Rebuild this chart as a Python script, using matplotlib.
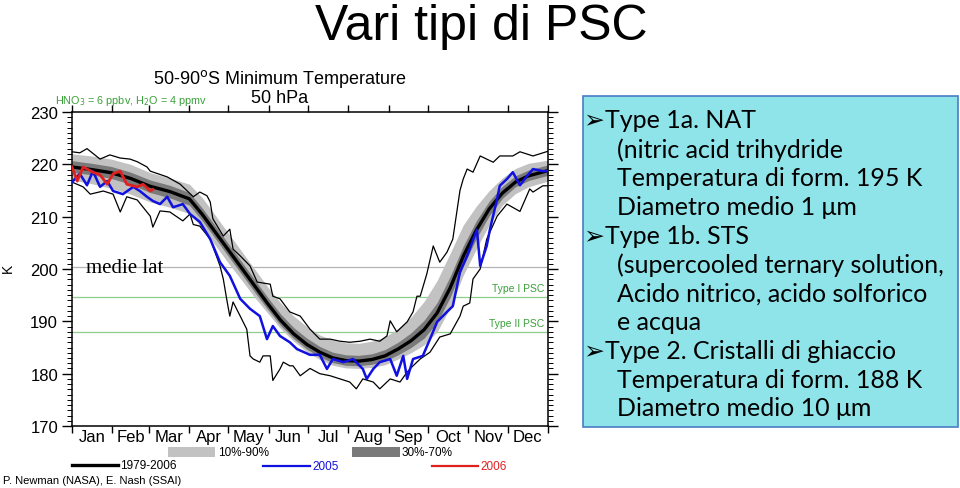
import numpy as np
import matplotlib
matplotlib.use("Agg")
import matplotlib.pyplot as plt
from matplotlib.patches import Rectangle
from matplotlib.lines import Line2D

plt.rcParams['font.family'] = ['Liberation Sans', 'DejaVu Sans']

# ---- data (day of year, K) ----
clim_days = [0, 15, 30, 45, 60, 75, 90, 100, 110, 120, 130, 140, 150, 160, 170, 180, 190,
             200, 210, 220, 230, 240, 250, 260, 270, 280, 290, 300, 310, 320, 330, 340, 350, 365]
mean_1979_2006 = [219.5, 219.0, 218.4, 217.3, 215.8, 214.8, 213.4, 210.4, 207.0, 203.6, 200.2, 196.8,
                  193.4, 190.2, 187.6, 185.6, 184.1, 183.0, 182.5, 182.4, 182.7, 183.4, 184.7, 186.3,
                  188.4, 191.6, 196.4, 202.4, 207.4, 211.5, 214.5, 216.6, 217.8, 218.8]
p10 = [217.0, 216.3, 215.4, 214.3, 212.8, 211.8, 210.6, 207.8, 204.5, 201.1, 197.9, 194.6, 191.6,
       188.6, 186.2, 184.2, 182.7, 181.6, 181.1, 181.0, 181.2, 181.7, 182.8, 184.0, 185.5, 188.0,
       192.6, 198.8, 203.8, 208.5, 212.2, 214.4, 215.7, 216.8]
p90 = [222.0, 221.6, 221.0, 220.0, 218.4, 217.4, 216.2, 213.6, 210.2, 206.8, 203.4, 200.0, 196.6,
       193.5, 191.0, 189.0, 187.4, 186.4, 185.9, 185.8, 186.2, 187.0, 188.6, 190.8, 193.8, 197.8,
       203.0, 208.4, 212.0, 215.0, 217.4, 219.2, 220.2, 220.8]
p30 = [218.5, 218.0, 217.3, 216.2, 214.6, 213.6, 212.2, 209.2, 205.8, 202.4, 199.0, 195.6, 192.3,
       189.2, 186.7, 184.7, 183.2, 182.1, 181.6, 181.5, 181.8, 182.4, 183.6, 185.0, 186.8, 189.8,
       194.6, 200.6, 205.8, 210.2, 213.5, 215.7, 216.9, 217.9]
p70 = [220.7, 220.2, 219.6, 218.5, 217.0, 216.0, 214.6, 211.6, 208.2, 204.8, 201.4, 198.0, 194.6,
       191.4, 188.8, 186.8, 185.2, 184.1, 183.6, 183.5, 183.8, 184.6, 186.0, 187.8, 190.2, 193.6,
       198.6, 204.4, 209.2, 213.0, 215.8, 217.8, 218.9, 219.9]

max_days = [0, 6, 11.5, 21.5, 29, 37, 44.5, 50, 57.5, 60, 73, 83, 93, 98, 103.5, 106, 108, 116, 121,
            123.5, 129, 136.5, 142, 152, 154, 159.5, 167, 175, 182.5, 190, 198, 205.5, 213, 221,
            228.5, 236, 241.5, 244, 249, 257, 261.5, 264.5, 267, 272, 277, 282, 287.5, 292, 297.5,
            300, 303, 307.5, 313, 318, 323, 328, 338, 343.5, 353.5, 365]
max_temp = [222.4, 222.2, 223.0, 221.0, 221.8, 221.2, 221.0, 220.5, 219.5, 218.7, 217.6, 216.2,
            213.8, 214.7, 214.0, 212.8, 209.6, 206.3, 207.6, 203.8, 202.5, 200.6, 197.5, 197.1,
            194.8, 194.3, 191.8, 191.0, 188.5, 186.6, 186.6, 186.2, 186.0, 186.2, 186.6, 186.2,
            187.2, 190.1, 188.0, 189.9, 191.8, 194.8, 194.8, 199.0, 204.4, 201.3, 203.2, 205.7,
            215.0, 217.2, 219.1, 218.5, 221.6, 221.0, 220.4, 221.6, 221.6, 222.4, 221.6, 222.5]

min_days = [0, 8.5, 14, 24, 31.5, 37, 42, 50, 60, 62, 67.5, 75, 85, 90.5, 93, 98, 106, 113.5,
            116, 119, 121, 123.5, 129, 134, 136.5, 139, 144, 146.5, 152, 154, 159.5, 162, 167,
            169.5, 175, 182.5, 190, 198, 205.5, 213, 218, 223, 231, 236, 244, 251.5, 257, 261.5,
            267, 274.5, 282, 290, 297.5, 300, 305, 307.5, 313, 318, 326, 333.5, 343.5, 351, 353.5,
            361, 365]
min_temp = [216.6, 215.7, 214.3, 214.9, 214.3, 210.9, 213.8, 213.2, 210.1, 208.0, 211.1, 210.9,
            209.2, 210.5, 208.5, 208.2, 205.7, 200.6, 198.1, 193.7, 191.0, 193.7, 191.0, 188.5,
            183.4, 182.8, 182.2, 183.4, 183.4, 178.7, 180.9, 182.2, 181.5, 181.5, 179.6, 181.0,
            180.0, 179.6, 179.0, 178.4, 177.1, 179.0, 178.4, 177.1, 179.0, 178.4, 180.3, 181.5,
            182.8, 184.1, 187.0, 187.6, 191.0, 192.9, 193.5, 198.1, 200.0, 205.7, 210.1, 212.4,
            211.0, 215.3, 214.7, 215.9, 215.9]

y2005_days = [0, 6, 11.5, 16, 21.5, 27, 31.5, 39, 47, 52, 57.5, 62, 67.5, 73, 77.5, 85, 90.5, 98,
              106, 113.5, 121, 129, 136.5, 144, 149.5, 154, 159.5, 167, 172.5, 182.5, 190, 195.5,
              200, 208, 215.5, 223, 226, 231, 236, 244, 249, 254, 257, 261.5, 269, 274.5, 280,
              287.5, 292, 297.5, 303, 310.5, 313, 318, 320.5, 326, 328, 333.5, 338, 343.5, 349,
              353.5, 361, 365]
y2005_temp = [216.6, 218.2, 216.0, 218.7, 215.7, 216.8, 214.9, 214.3, 215.7, 214.9, 213.8, 213.0,
              212.4, 213.8, 211.8, 212.4, 210.5, 209.0, 205.7, 201.3, 198.7, 194.3, 192.4, 191.0,
              186.6, 189.1, 187.2, 186.0, 184.7, 183.6, 183.6, 180.9, 182.8, 182.2, 182.8, 180.9,
              179.0, 180.9, 182.2, 182.8, 179.6, 183.4, 179.0, 182.8, 183.4, 186.6, 189.9, 191.8,
              192.9, 199.4, 202.5, 207.5, 200.6, 204.4, 207.6, 213.4, 215.9, 217.2, 218.5, 216.0,
              217.8, 219.1, 218.7, 218.7]

y2006_days = [0, 4, 8.5, 16, 21.5, 27, 31.5, 37, 42, 50, 54.5, 60, 62]
y2006_temp = [219.5, 216.8, 219.5, 218.5, 218.0, 216.2, 218.2, 218.7, 216.2, 215.7, 216.2, 214.9, 215.2]

month_starts = [0, 31, 59, 90, 120, 151, 181, 212, 243, 273, 304, 334, 365]
month_names = ['Jan', 'Feb', 'Mar', 'Apr', 'May', 'Jun', 'Jul', 'Aug', 'Sep', 'Oct', 'Nov', 'Dec']
mid_lat_level = 200.3
psc_levels = [194.7, 188.0]
psc_names = ['Type I PSC', 'Type II PSC']

text_lines = [
    ('\u27a2Type 1a. NAT', True),
    ('(nitric acid trihydride', False),
    ('Temperatura di form. 195 K', False),
    ('Diametro medio 1 \u03bcm', False),
    ('\u27a2Type 1b. STS', True),
    ('(supercooled ternary solution,', False),
    ('Acido nitrico, acido solforico', False),
    ('e acqua', False),
    ('\u27a2Type 2. Cristalli di ghiaccio', True),
    ('Temperatura di form. 188 K', False),
    ('Diametro medio 10 \u03bcm', False),
]

W, H = 960, 489
def fx(px):
    return px / W
def fy(py):
    return 1 - py / H

fig = plt.figure(figsize=(9.6, 4.89), dpi=100)
ax = fig.add_axes([fx(72), fy(427), 476 / W, 314 / H])

light, dark = '#c2c2c2', '#7a7a7a'
ax.fill_between(clim_days, p10, p90, color=light, lw=0, zorder=1)
ax.fill_between(clim_days, p30, p70, color=dark, lw=0, zorder=2)
ax.axhline(mid_lat_level, color='#b4b4b4', lw=0.9, zorder=0.5)
for lev in psc_levels:
    ax.axhline(lev, color='#8ccf8c', lw=0.9, zorder=0.5)
ax.plot(max_days, max_temp, color='black', lw=0.9, zorder=3)
ax.plot(min_days, min_temp, color='black', lw=0.9, zorder=3)
ax.plot(clim_days, mean_1979_2006, color='black', lw=2.4, zorder=4)
ax.plot(y2005_days, y2005_temp, color='#1010e0', lw=1.8, zorder=5)
ax.plot(y2006_days, y2006_temp, color='#e02020', lw=2.0, zorder=6)

ax.set_xlim(0, 365)
ax.set_ylim(170, 230)
ax.set_yticks(range(170, 231, 10))
ax.set_yticks(range(170, 231, 1), minor=True)
ax.tick_params(axis='y', which='major', direction='out', length=7, width=1,
               right=True, labelsize=12, pad=3)
ax.tick_params(axis='y', which='minor', direction='out', length=3.5, width=0.7, right=True)
ax.set_xticks(month_starts)
ax.set_xticklabels([])
mids = [(month_starts[i] + month_starts[i + 1]) / 2 for i in range(12)]
ax.set_xticks(mids, minor=True)
ax.set_xticklabels(month_names, minor=True, fontsize=12)
ax.tick_params(axis='x', which='major', direction='out', length=5, width=1, top=True)
ax.tick_params(axis='x', which='minor', length=0, pad=2)
for s in ax.spines.values():
    s.set_linewidth(1.1)

ax.text(0.03, (mid_lat_level - 170) / 60, 'medie lat', transform=ax.transAxes,
        family='Liberation Serif', fontsize=15, va='center', ha='left', zorder=7)
ax.text(362, psc_levels[0] + 1.6, psc_names[0], ha='right', va='center', fontsize=7.5, color='#3aa03a')
ax.text(362, psc_levels[1] + 1.6, psc_names[1], ha='right', va='center', fontsize=7.5, color='#3aa03a')

# chart annotations
fig.text(fx(8), fy(268), 'K', rotation=90, ha='center', va='center', fontsize=10)
fig.text(fx(280), fy(79), '50-90$^{\\mathrm{o}}$S Minimum Temperature', ha='center', va='center', fontsize=13)
fig.text(fx(280), fy(99), '50 hPa', ha='center', va='center', fontsize=13)
fig.text(fx(55), fy(101), 'HNO$_3$ = 6 ppbv, H$_2$O = 4 ppmv', ha='left', va='center',
         fontsize=7.8, color='#3aa03a')

# legend under the plot
fig.patches.append(Rectangle((fx(168), fy(458)), 47 / W, 10 / H, transform=fig.transFigure,
                             color=light, lw=0))
fig.text(fx(218), fy(453), '10%-90%', ha='left', va='center', fontsize=8.5)
fig.patches.append(Rectangle((fx(352), fy(458)), 48 / W, 10 / H, transform=fig.transFigure,
                             color=dark, lw=0))
fig.text(fx(402), fy(453), '30%-70%', ha='left', va='center', fontsize=8.5)
fig.lines.append(Line2D([fx(72), fx(118)], [fy(466), fy(466)], transform=fig.transFigure,
                        color='black', lw=2.4))
fig.text(fx(120), fy(466), '1979-2006', ha='left', va='center', fontsize=8.5)
fig.lines.append(Line2D([fx(263), fx(310)], [fy(467), fy(467)], transform=fig.transFigure,
                        color='#1010e0', lw=1.6))
fig.text(fx(312), fy(467), '2005', ha='left', va='center', fontsize=8.5, color='#1010e0')
fig.lines.append(Line2D([fx(432), fx(478)], [fy(467), fy(467)], transform=fig.transFigure,
                        color='#e02020', lw=1.6))
fig.text(fx(480), fy(467), '2006', ha='left', va='center', fontsize=8.5, color='#e02020')
fig.text(fx(3), fy(481), 'P. Newman (NASA), E. Nash (SSAI)', ha='left', va='center', fontsize=8)

# slide title
fig.text(fx(481), fy(40), 'Vari tipi di PSC', ha='center', va='baseline', fontsize=36)

# text box
fig.patches.append(Rectangle((fx(583), fy(428)), 375 / W, 331 / H, transform=fig.transFigure,
                             facecolor='#8fe4e9', edgecolor='#4a7cc4', lw=1.2))
y0, dy = 121, 28.8
for i, (line, bullet) in enumerate(text_lines):
    fig.text(fx(584 if bullet else 617), fy(y0 + i * dy), line, ha='left', va='center',
             fontsize=18, family=['Lato', 'DejaVu Sans'])

fig.savefig('out.png', dpi=100)
